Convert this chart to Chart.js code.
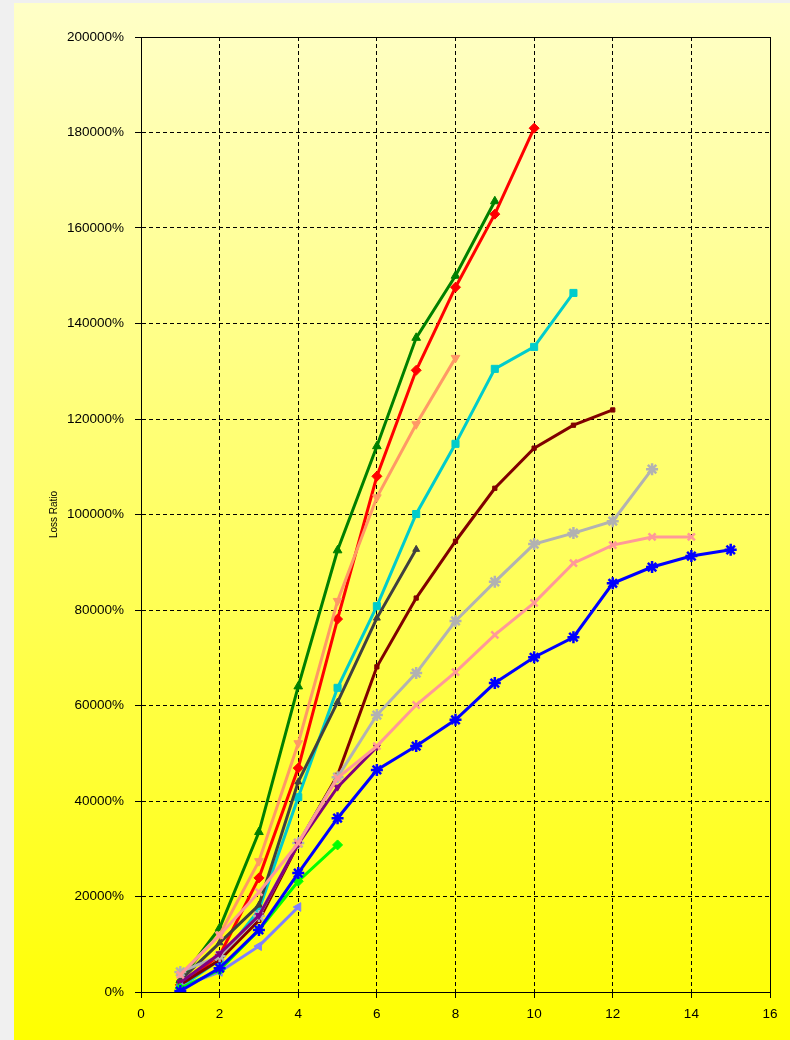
<!DOCTYPE html>
<html>
<head>
<meta charset="utf-8">
<script src="https://cdn.jsdelivr.net/npm/chart.js@4.4.1/dist/chart.umd.min.js"></script>
<style>
  html, body { margin: 0; padding: 0; background: #f0f0f0; }
  #bg {
    position: absolute; left: 14px; top: 3px; width: 776px; height: 1037px;
    background: linear-gradient(to bottom, #ffffc8 0%, #ffff00 100%);
  }
  #wrap { position: absolute; left: 0; top: 0; width: 790px; height: 1040px; }
</style>
</head>
<body>
<div id="bg"></div>
<div id="wrap"><canvas id="plot" width="790" height="1040"></canvas></div>
<script>
// development periods
const periods = [1, 2, 3, 4, 5, 6, 7, 8, 9, 10, 11, 12, 13, 14, 15];

// loss ratio (%) per accident year
const darkGreen = [2500, 13400, 33500, 64000, 92500, 114300, 137000, 150000, 165600];
const red = [1500, 7700, 23900, 46900, 78100, 108000, 130200, 147600, 162900, 180900];
const orange = [3600, 12000, 27400, 52100, 81900, 103600, 118900, 132800];
const cyan = [1000, 6700, 17200, 40800, 63700, 80800, 100100, 114800, 130500, 135100, 146400];
const darkGray = [2500, 10300, 18200, 44000, 60700, 78300, 92700];
const maroon = [1500, 6700, 15000, 31000, 45400, 68100, 82500, 94400, 105500, 113900, 118700, 121900];
const lightGray = [4200, 7500, 15900, 31200, 45000, 58000, 66800, 77700, 85900, 93800, 96100, 98600, 109500];
const pink = [3600, 11900, 20900, 31200, 44800, 51500, 60100, 67000, 74800, 81500, 89800, 93600, 95300, 95300];
const purple = [2000, 8000, 16000, 31000, 42900, 51300];
const blue = [200, 5000, 13000, 24900, 36400, 46500, 51500, 57000, 64700, 70100, 74300, 85600, 89000, 91300, 92600];
const lime = [800, 4600, 13000, 23200, 30800];
const periwinkle = [1000, 4200, 9600, 17800];

const yTicks = [0, 20000, 40000, 60000, 80000, 100000, 120000, 140000, 160000, 180000, 200000];

const pts = (vals) => vals.map((v, i) => ({ x: periods[i], y: v }));

const series = [
    { data: blue, color: '#0000FF', style: 'star', radius: 6 },
    { data: lime, color: '#00FF00', style: 'rectRot', radius: 5 },
    { data: periwinkle, color: '#8080FF', style: 'triangle', radius: 5, rotation: -90 },
    { data: pink, color: '#FF9999', style: 'crossRot', radius: 5 },
    { data: purple, color: '#800080', style: 'triangle', radius: 4, rotation: 180 },
    { data: lightGray, color: '#B2B2B2', style: 'star', radius: 6 },
    { data: maroon, color: '#800000', style: 'rect', radius: 3 },
    { data: darkGray, color: '#404040', style: 'triangle', radius: 4 },
    { data: cyan, color: '#00CCCC', style: 'rect', radius: 5 },
    { data: orange, color: '#FF9966', style: 'triangle', radius: 5, rotation: 180 },
    { data: red, color: '#FF0000', style: 'rectRot', radius: 5 },
    { data: darkGreen, color: '#008000', style: 'triangle', radius: 5 },
];

// solid frame round the plot area
const frame = {
    id: 'frame',
    afterDatasetsDraw(chart) {
        const { ctx, chartArea: a } = chart;
        ctx.save();
        ctx.setLineDash([]);
        ctx.strokeStyle = '#000';
        ctx.lineWidth = 1;
        ctx.strokeRect(a.left + 0.5, a.top + 0.5, a.right - a.left, a.bottom - a.top);
        ctx.restore();
    }
};

const gridOpts = { color: '#000', tickLength: 6, tickColor: '#000', tickBorderDash: [] };
const borderOpts = { color: '#000', width: 1, dash: [4, 3] };
const tickFont = { family: 'Liberation Sans, Arial', size: 13.5 };

const chartEl = document.getElementById('plot').getContext('2d');
const lossChart = new Chart(chartEl, {
    type: 'line',
    data: {
        datasets: series.map((s) => ({
            data: pts(s.data),
            borderColor: s.color,
            backgroundColor: s.color,
            borderWidth: 3,
            pointStyle: s.style,
            pointRadius: s.radius,
            pointRotation: s.rotation || 0,
            pointBorderWidth: s.style === 'star' || s.style === 'crossRot' ? 2.5 : 1,
            fill: false,
            tension: 0
        }))
    },
    options: {
        responsive: false,
        animation: false,
        layout: { padding: { top: 37, right: 20, bottom: 0, left: 0 } },
        plugins: { legend: { display: false }, tooltip: { enabled: false } },
        scales: {
            x: {
                type: 'linear',
                min: 0,
                max: 16,
                ticks: { stepSize: 2, color: '#000', padding: 8, font: tickFont },
                grid: gridOpts,
                border: borderOpts,
                afterFit: (scale) => { scale.height = 48; }
            },
            y: {
                min: 0,
                max: 200000,
                afterBuildTicks: (scale) => { scale.ticks = yTicks.map((v) => ({ value: v })); },
                ticks: {
                    color: '#000',
                    padding: 11,
                    font: tickFont,
                    callback: (v) => v + '%'
                },
                title: {
                    display: true,
                    text: 'Loss Ratio',
                    color: '#000',
                    font: { family: 'Liberation Sans, Arial', size: 10 },
                    padding: { top: 48, bottom: 0 }
                },
                grid: gridOpts,
                border: borderOpts,
                afterFit: (scale) => { scale.width = 141; }
            }
        }
    },
    plugins: [frame]
});
</script>
</body>
</html>
